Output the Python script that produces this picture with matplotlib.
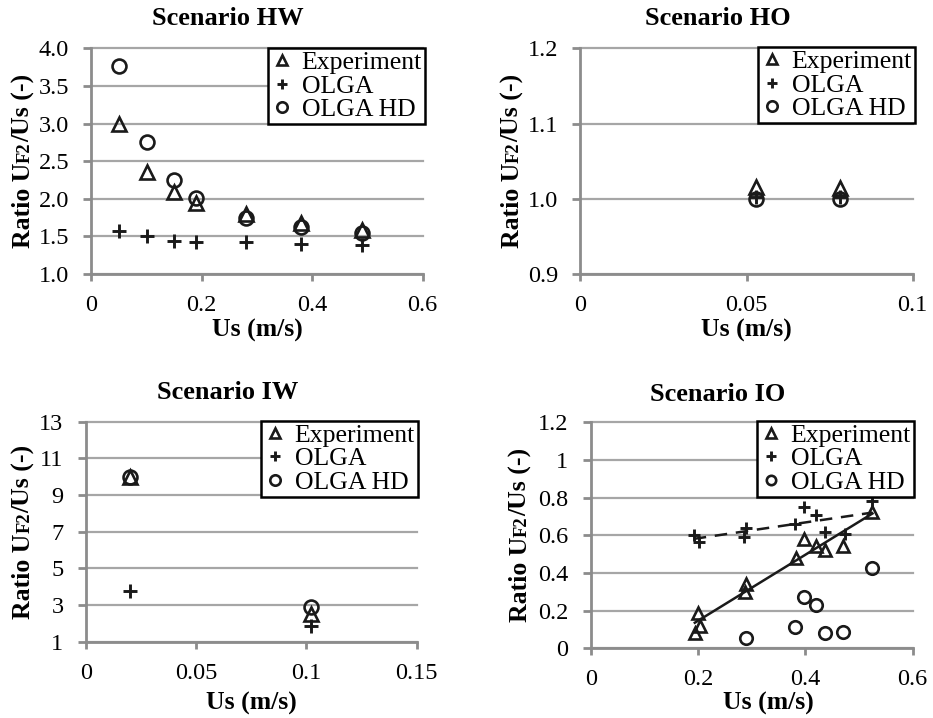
import numpy as np
import matplotlib
matplotlib.use("Agg")
import matplotlib.pyplot as plt
from matplotlib.ticker import FixedLocator, FuncFormatter

plt.rcParams['font.family'] = ['Liberation Serif', 'DejaVu Serif']

# ---- data ----
hw_x = [0.05, 0.10, 0.15, 0.19, 0.28, 0.38, 0.49]
hw_exp = [3.00, 2.36, 2.09, 1.94, 1.80, 1.68, 1.58]
hw_olga = [1.57, 1.50, 1.44, 1.43, 1.42, 1.40, 1.39]
hw_hd = [3.77, 2.75, 2.25, 2.01, 1.75, 1.63, 1.55]

ho_x = [0.053, 0.078]
ho_exp = [1.015, 1.014]
ho_olga = [1.003, 1.003]
ho_hd = [1.000, 1.000]

iw_x = [0.020, 0.102]
iw_exp = [10.0, 2.5]
iw_olga = [3.75, 1.85]
iw_hd = [10.0, 2.9]

io_exp_x = [0.194, 0.204, 0.200, 0.287, 0.289, 0.382, 0.397, 0.419, 0.436, 0.471, 0.525]
io_exp = [0.08, 0.12, 0.185, 0.30, 0.34, 0.48, 0.58, 0.545, 0.52, 0.545, 0.725]
io_olga_x = [0.192, 0.202, 0.289, 0.286, 0.380, 0.397, 0.419, 0.436, 0.473, 0.525]
io_olga = [0.60, 0.565, 0.64, 0.59, 0.66, 0.75, 0.71, 0.615, 0.605, 0.78]
io_hd_x = [0.289, 0.380, 0.397, 0.419, 0.436, 0.471, 0.525]
io_hd = [0.057, 0.115, 0.275, 0.232, 0.082, 0.087, 0.428]

series_labels = ["Experiment", "OLGA", "OLGA HD"]

W, H = 933, 718
fig = plt.figure(figsize=(W / 100, H / 100), dpi=100)

TICK_FS = 17.5
LEG_FS = 18.5
TITLE_FS = 19
BOLD_FS = 18.5
INK = '#1a1a1a'
GRAY = '#8c8c8c'
GRID = '#a6a6a6'


def rect(l, r, t, b):
    return [l / W, 1 - b / H, (r - l) / W, (b - t) / H]


def style_axes(ax, xlim, xticks, ylim, yticks, yfmt, xfmt):
    ax.set_xlim(*xlim)
    ax.set_ylim(*ylim)
    ax.xaxis.set_major_locator(FixedLocator(xticks))
    ax.yaxis.set_major_locator(FixedLocator(yticks))
    ax.xaxis.set_major_formatter(FuncFormatter(xfmt))
    ax.yaxis.set_major_formatter(FuncFormatter(yfmt))
    for s in ('top', 'right'):
        ax.spines[s].set_visible(False)
    for s in ('left', 'bottom'):
        ax.spines[s].set_color(GRAY)
        ax.spines[s].set_linewidth(2)
    ax.tick_params(axis='x', direction='out', length=5, width=2, color=GRAY,
                   labelsize=TICK_FS, pad=10, labelcolor='black')
    ax.tick_params(axis='y', direction='out', length=6, width=2, color=GRAY,
                   labelsize=TICK_FS, pad=10, labelcolor='black')
    ax.yaxis.grid(True, color=GRID, linewidth=1.6)
    ax.set_axisbelow(True)
    for gl in ax.get_ygridlines():
        gl.set_clip_on(False)


def plot_series(ax, xs, ys, ms=10):
    h1, = ax.plot(xs[0], ys[0], ls='none', marker='^', ms=ms, mfc='none',
                  mec=INK, mew=1.9, clip_on=False, zorder=4)
    h2, = ax.plot(xs[1], ys[1], ls='none', marker='+', ms=ms, mec=INK,
                  mew=2.1, clip_on=False, zorder=4)
    h3, = ax.plot(xs[2], ys[2], ls='none', marker='o', ms=ms, mfc='none',
                  mec=INK, mew=1.9, clip_on=False, zorder=4)
    return [h1, h2, h3]


def add_legend(ax, handles, right, top):
    leg = ax.legend(handles, series_labels, loc='upper right',
                    bbox_to_anchor=(right / W, 1 - top / H),
                    bbox_transform=fig.transFigure, fontsize=LEG_FS,
                    frameon=True, fancybox=False, framealpha=1,
                    edgecolor='black', borderpad=0.12, borderaxespad=0,
                    handlelength=0.9, handletextpad=0.3, labelspacing=0.02,
                    markerscale=0.75)
    leg.get_frame().set_linewidth(1.8)
    return leg


fmt1 = lambda v, p: f"{v:.1f}"
fmtg = lambda v, p: f"{v:g}"

panels = []

# Scenario HW
ax = fig.add_axes(rect(91.3, 422.7, 48.3, 274))
style_axes(ax, (0, 0.6), [0, 0.2, 0.4, 0.6], (1.0, 4.0),
           np.arange(1.0, 4.01, 0.5), fmt1, fmtg)
hs = plot_series(ax, [hw_x] * 3, [hw_exp, hw_olga, hw_hd])
add_legend(ax, hs, 425, 48.3)
panels.append((ax, "Scenario HW", 228, 18.5, 257, 330, 30))

# Scenario HO
ax = fig.add_axes(rect(580.3, 912.7, 48.3, 274))
style_axes(ax, (0, 0.1), [0, 0.05, 0.1], (0.9, 1.2),
           [0.9, 1.0, 1.1, 1.2], fmt1, fmtg)
hs = plot_series(ax, [ho_x] * 3, [ho_exp, ho_olga, ho_hd])
add_legend(ax, hs, 915, 47)
panels.append((ax, "Scenario HO", 718, 18.5, 746.5, 330, 519))

# Scenario IW
ax = fig.add_axes(rect(85.7, 416.7, 421.7, 641.7))
style_axes(ax, (0, 0.15), [0, 0.05, 0.1, 0.15], (1, 13),
           [1, 3, 5, 7, 9, 11, 13], fmtg, fmtg)
hs = plot_series(ax, [iw_x] * 3, [iw_exp, iw_olga, iw_hd])
add_legend(ax, hs, 418, 420.7)
panels.append((ax, "Scenario IW", 227.5, 393, 251, 703, 30))

# Scenario IO
ax = fig.add_axes(rect(590.7, 912.7, 422.3, 648.3))
style_axes(ax, (0, 0.6), [0, 0.2, 0.4, 0.6], (0, 1.2),
           [0, 0.2, 0.4, 0.6, 0.8, 1.0, 1.2], fmtg, fmtg)
hs = plot_series(ax, [io_exp_x, io_olga_x, io_hd_x], [io_exp, io_olga, io_hd], ms=9)
# linear trend lines
for xs, ys, ls in ((io_exp_x, io_exp, '-'), (io_olga_x, io_olga, (0, (5, 3.5)))):
    k, c = np.polyfit(xs, ys, 1)
    xx = np.array([min(xs), max(xs)])
    ax.plot(xx, k * xx + c, color=INK, lw=1.8, ls=ls, zorder=3)
add_legend(ax, hs, 914, 420.7)
panels.append((ax, "Scenario IO", 718, 394, 768, 703, 527))

renderer = fig.canvas.get_renderer()


def ylabel_runs(x_base, y_center):
    runs = [("Ratio U", BOLD_FS), ("F2", BOLD_FS * 0.72), ("/Us (-)", BOLD_FS)]
    texts = []
    for s, fs in runs:
        t = fig.text(0, 0, s, fontsize=fs, fontweight='bold', rotation=90,
                     rotation_mode='anchor', ha='left', va='baseline',
                     transform=None)
        texts.append(t)
    lengths = [t.get_window_extent(renderer).height for t in texts]
    total = sum(lengths)
    y = y_center - total / 2
    for t, L in zip(texts, lengths):
        t.set_position((x_base, y))
        y += L


for ax, title, tx, ty, lx, ly, yb in panels:
    fig.text(tx / W, 1 - ty / H, title, fontsize=TITLE_FS, fontweight='bold',
             ha='center', va='center')
    fig.text(lx / W, 1 - ly / H, "Us (m/s)", fontsize=BOLD_FS,
             fontweight='bold', ha='center', va='center')
    bb = ax.get_window_extent(renderer)
    ylabel_runs(yb, (bb.y0 + bb.y1) / 2)

fig.savefig("out.png", dpi=100)
